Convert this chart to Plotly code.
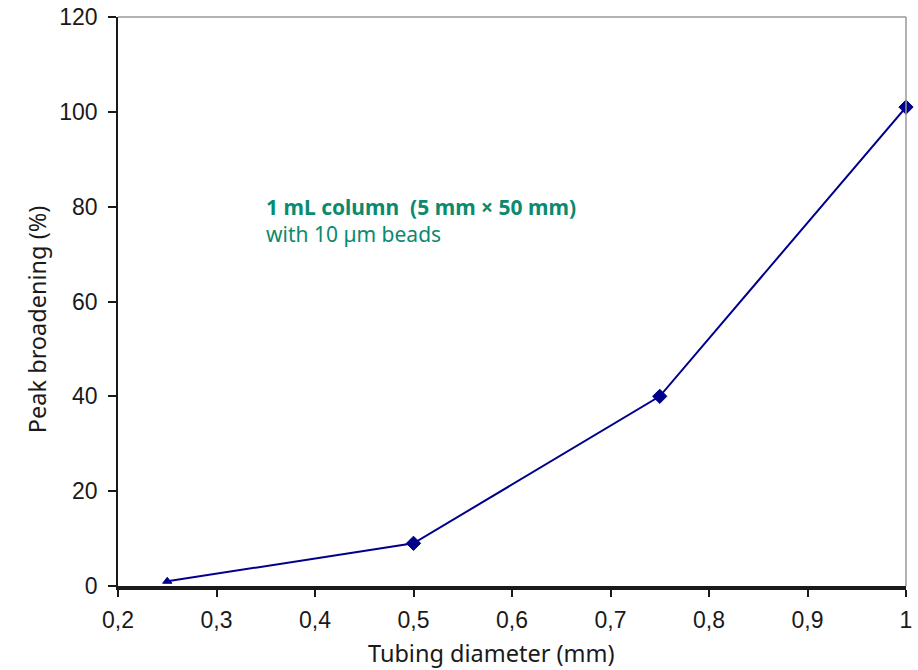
import plotly.graph_objects as go

# Tubing inner diameter (mm) vs. peak broadening (%)
tubing_diameter = [0.25, 0.5, 0.75, 1.0]
peak_broadening = [1, 9, 40, 101]

x_ticks = [0.2, 0.3, 0.4, 0.5, 0.6, 0.7, 0.8, 0.9, 1.0]
x_tick_text = ["0,2", "0,3", "0,4", "0,5", "0,6", "0,7", "0,8", "0,9", "1"]
y_ticks = [0, 20, 40, 60, 80, 100, 120]

x_title = "Tubing diameter (mm)"
y_title = "Peak broadening (%)"

navy = "#00008B"
green = "#0A8A6E"
ink = "#1a1a1a"
title_font = dict(family="Noto Sans, sans-serif", size=23.5, color=ink)

fig = go.Figure()
fig.add_trace(go.Scatter(
    x=tubing_diameter,
    y=peak_broadening,
    mode="lines+markers",
    line=dict(color=navy, width=2),
    marker=dict(symbol=["triangle-up", "diamond", "diamond", "diamond"],
                size=[8, 11, 11, 11], color=navy, opacity=1,
                line=dict(color=navy, width=1)),
    showlegend=False,
    cliponaxis=False,
))

fig.add_annotation(
    x=0.185, y=0.694, xref="x domain", yref="y domain",
    text="<b>1 mL column  (5 mm × 50 mm)</b><br>with 10 µm beads",
    showarrow=False, align="left", xanchor="left", yanchor="top",
    font=dict(family="Noto Sans, Inter, sans-serif", size=21, color=green),
)

# axis titles placed as paper annotations
fig.add_annotation(
    x=0.474, y=-0.118, xref="paper", yref="paper",
    text=x_title, showarrow=False, xanchor="center", yanchor="middle",
    font=title_font,
)
fig.add_annotation(
    x=-0.1028, y=0.469, xref="paper", yref="paper",
    text=y_title, textangle=-90, showarrow=False,
    xanchor="center", yanchor="middle", font=title_font,
)

fig.update_layout(
    width=918, height=670,
    margin=dict(l=118, r=12, t=17, b=84, autoexpand=False),
    plot_bgcolor="white", paper_bgcolor="white",
    font=dict(family="Liberation Sans, Arial, sans-serif", size=23, color=ink),
    xaxis=dict(
        range=[0.2, 1.0], tickvals=x_ticks, ticktext=x_tick_text,
        tickfont=dict(size=23, color=ink),
        ticks="outside", ticklen=7, tickcolor=ink, tickwidth=1.5,
        showline=True, linecolor=ink, linewidth=3.5, mirror=False,
        showgrid=False, zeroline=False, automargin=False,
        ticklabelstandoff=4,
    ),
    yaxis=dict(
        range=[0, 120], tickvals=y_ticks,
        tickfont=dict(size=23, color=ink),
        ticks="outside", ticklen=8, tickcolor=ink, tickwidth=1.5,
        showline=True, linecolor=ink, linewidth=1.5,
        showgrid=False, zeroline=False, automargin=False,
        ticklabelstandoff=6,
    ),
    shapes=[
        dict(type="line", xref="paper", yref="paper", x0=0, x1=1, y0=1, y1=1,
             line=dict(color="#999", width=1.5)),
        dict(type="line", xref="paper", yref="paper", x0=1, x1=1, y0=0, y1=1,
             line=dict(color="#999", width=1.5)),
    ],
)

fig.write_html("out.html")
